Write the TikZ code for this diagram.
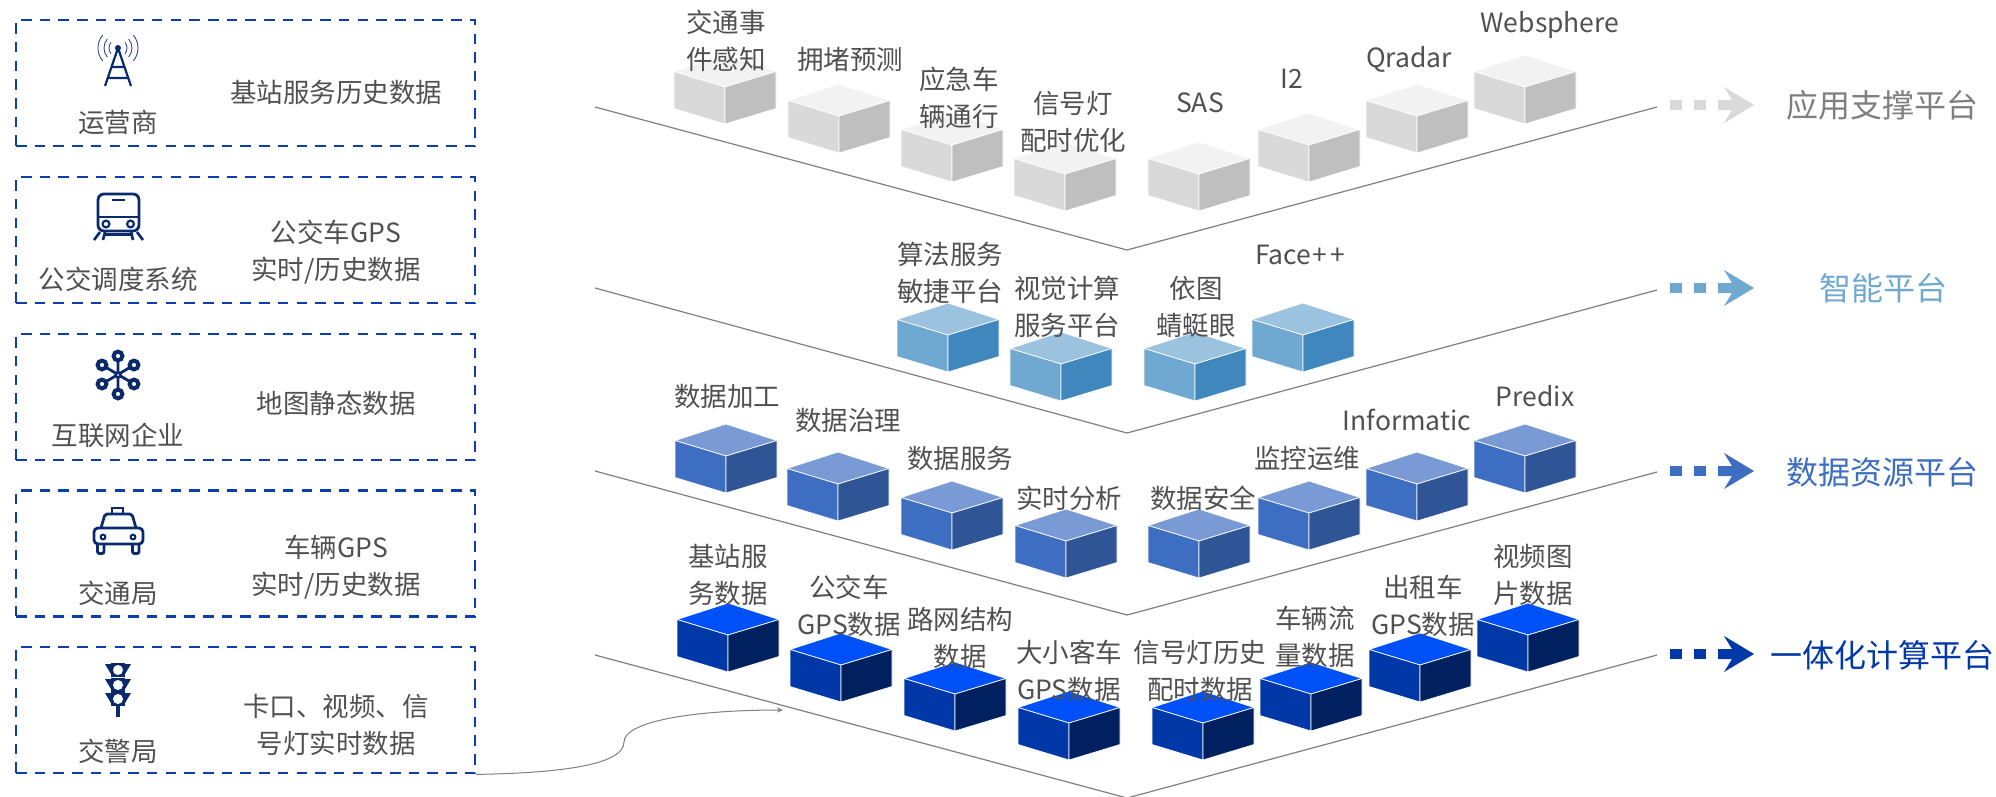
\documentclass[tikz,border=0pt]{standalone}
\usepackage{fontspec}
\setmainfont{Noto Sans CJK SC}
\usepackage{xcolor}
\usetikzlibrary{positioning}
\usetikzlibrary{shapes,arrows,calc,arrows.meta}
\definecolor{boxblue}{HTML}{0B3FAE}
\definecolor{iconnavy}{HTML}{0A2A6E}
\definecolor{textgray}{HTML}{505050}
\definecolor{linegray}{HTML}{7F7F7F}
\definecolor{appT}{HTML}{F2F2F2}
\definecolor{appL}{HTML}{D9D9D9}
\definecolor{appR}{HTML}{BFBFBF}
\definecolor{aiT}{HTML}{9BC2DE}
\definecolor{aiL}{HTML}{6FA8D0}
\definecolor{aiR}{HTML}{3F87BC}
\definecolor{dataT}{HTML}{7A9AD6}
\definecolor{dataL}{HTML}{3E6EC2}
\definecolor{dataR}{HTML}{2F5597}
\definecolor{baseT}{HTML}{0050F8}
\definecolor{baseL}{HTML}{0038A8}
\definecolor{baseR}{HTML}{002060}
\tikzset{
    srcbox/.style={draw=boxblue, line width=2.8pt, dash pattern=on 10.5pt off 8.2pt, minimum width=459pt, minimum height=126pt, inner sep=0pt},
    txt/.style={text=textgray, font=\fontsize{26.5}{37.5}\selectfont, align=center, inner sep=0pt},
    plat/.style={font=\fontsize{32}{38}\selectfont, inner sep=0pt},
    vline/.style={draw=linegray, line width=1.2pt},
    icon/.style={draw=iconnavy, line width=2.8pt},
    pics/cube/.style n args={3}{code={
        \fill [#1, draw=white, line width=0.7pt] (51,0) -- (102,16.5) -- (51,32) -- (0,16.5) -- cycle;
        \fill [#2, draw=white, line width=0.7pt] (0,16.5) -- (51,32) -- (51,69) -- (0,53.5) -- cycle;
        \fill [#3, draw=white, line width=0.7pt] (102,16.5) -- (51,32) -- (51,69) -- (102,53.5) -- cycle;
    }},
    pics/flow/.style={code={
        \fill [#1] (0,-5) rectangle (12,5);
        \fill [#1] (24,-5) rectangle (36,5);
        \fill [#1] (48,-5) -- (62,-5) -- (54,-18) -- (84,0) -- (54,18) -- (62,5) -- (48,5) -- cycle;
    }},
    pics/lamp/.style={code={
        \fill [iconnavy] (-7,0) rectangle (7,14);
        \fill [iconnavy] (-13,1) -- (-7,1) -- (-7,11) -- cycle;
        \fill [iconnavy] (13,1) -- (7,1) -- (7,11) -- cycle;
        \fill [white] (0,7) circle (5);
    }}
}

\begin{document}
\begin{tikzpicture}[x=1pt, y=-1pt]
    \useasboundingbox (0,0) rectangle (1996,796);
    % Source boxes
    \node [srcbox] (box1) at (245.5,83) {};
    \node [srcbox] (box2) at (245.5,240) {};
    \node [srcbox] (box3) at (245.5,397) {};
    \node [srcbox] (box4) at (245.5,553.5) {};
    \node [srcbox] (box5) at (245.5,710) {};

    \node [txt] (src1) at (118,122) {运营商};
    \node [txt] (src2) at (118,279) {公交调度系统};
    \node [txt] (src3) at (118,435) {互联网企业};
    \node [txt] (src4) at (118,593) {交通局};
    \node [txt] (src5) at (118,751) {交警局};
    \node [txt] (data1) at (336,92) {基站服务历史数据};
    \node [txt] (data2) at (336,252) {公交车GPS\\实时/历史数据};
    \node [txt] (data3) at (336,403) {地图静态数据};
    \node [txt] (data4) at (336,567) {车辆GPS\\实时/历史数据};
    \node [txt] (data5) at (336,725) {卡口、视频、信\\号灯实时数据};

    % Icons
    \draw [icon, line width=2.2pt, line join=round] (105,86) -- (118,48) -- (131,86) (112,67) -- (124,67) (108,78) -- (128,78);
    \fill [iconnavy] (118,48) circle (3);
    \draw [iconnavy!85, line width=0.9pt] (118,48) ++(140:9) arc (140:220:9) (118,48) ++(140:14) arc (140:220:14) (118,48) ++(140:20) arc (140:220:20);
    \draw [iconnavy!85, line width=0.9pt] (118,48) ++(-40:9) arc (-40:40:9) (118,48) ++(-40:14) arc (-40:40:14) (118,48) ++(-40:20) arc (-40:40:20);

    \draw [icon, rounded corners=6pt] (98,194) rectangle (139,231);
    \draw [icon] (98,217) -- (139,217) (112,200) -- (125,200);
    \draw [icon, line width=2.2pt] (106,224) circle (3.4) (130.5,224) circle (3.4);
    \draw [icon, line width=2.6pt] (100,232) -- (94,240) (137,232) -- (143,240) (105,232) -- (103,240) (131,232) -- (133,240) (104,234.5) -- (133,234.5);

    \draw [icon] (118,356) -- (118,394) (102,365) -- (134,384) (134,365) -- (102,384);
    \filldraw [icon, line width=2.6pt, fill=white] (118,375) circle (2.4);
    \filldraw [icon, line width=4pt, fill=white] (118,356) circle (4.4) (118,394) circle (4.4) (102,365) circle (4.4) (134,365) circle (4.4) (102,384) circle (4.4) (134,384) circle (4.4);

    \draw [icon, line join=round, rounded corners=2pt] (101,528) -- (105,514) -- (132,514) -- (136,528);
    \draw [icon, rounded corners=4pt] (94,528) rectangle (143,544);
    \draw [icon] (112,513) -- (112,508) -- (123,508) -- (123,513);
    \draw [icon, line width=2pt] (103,537) circle (2.4) (133,537) circle (2.4);
    \draw [icon, rounded corners=2pt] (97.5,544) -- (97.5,553.5) -- (104,553.5) -- (104,544) (132.5,544) -- (132.5,553.5) -- (139,553.5) -- (139,544);

    \pic at (118,663) {lamp};
    \pic at (118,678) {lamp};
    \pic at (118,692) {lamp};
    \draw [icon, line width=4pt] (118,705) -- (118,717);

    % Layers
    \coordinate (l1a) at (595,107);
    \coordinate (l1b) at (1127,250);
    \coordinate (l1c) at (1657,107);
    \coordinate (l2a) at (595,288);
    \coordinate (l2b) at (1127,433);
    \coordinate (l2c) at (1657,290);
    \coordinate (l3a) at (595,471);
    \coordinate (l3b) at (1127,615);
    \coordinate (l3c) at (1657,472);
    \coordinate (l4a) at (595,655);
    \coordinate (l4b) at (1127,798);
    \coordinate (l4c) at (1657,655);
    \draw [vline] (l1a) -- (l1b) -- (l1c);
    \draw [vline] (l2a) -- (l2b) -- (l2c);
    \draw [vline] (l3a) -- (l3b) -- (l3c);
    \draw [vline] (l4a) -- (l4b) -- (l4c);

    % Cubes
    \pic at (674,55) {cube={appT}{appL}{appR}};
    \pic at (788,84) {cube={appT}{appL}{appR}};
    \pic at (901,113) {cube={appT}{appL}{appR}};
    \pic at (1014,142) {cube={appT}{appL}{appR}};
    \pic at (1148,142) {cube={appT}{appL}{appR}};
    \pic at (1258,113) {cube={appT}{appL}{appR}};
    \pic at (1366,84) {cube={appT}{appL}{appR}};
    \pic at (1474,55) {cube={appT}{appL}{appR}};

    \pic at (897,303) {cube={aiT}{aiL}{aiR}};
    \pic at (1010,332) {cube={aiT}{aiL}{aiR}};
    \pic at (1144,332) {cube={aiT}{aiL}{aiR}};
    \pic at (1252,303) {cube={aiT}{aiL}{aiR}};

    \pic at (675,424) {cube={dataT}{dataL}{dataR}};
    \pic at (787,452) {cube={dataT}{dataL}{dataR}};
    \pic at (901,481) {cube={dataT}{dataL}{dataR}};
    \pic at (1015,509) {cube={dataT}{dataL}{dataR}};
    \pic at (1148,509) {cube={dataT}{dataL}{dataR}};
    \pic at (1258,481) {cube={dataT}{dataL}{dataR}};
    \pic at (1366,452) {cube={dataT}{dataL}{dataR}};
    \pic at (1474,424) {cube={dataT}{dataL}{dataR}};

    \pic at (677,603) {cube={baseT}{baseL}{baseR}};
    \pic at (790,633) {cube={baseT}{baseL}{baseR}};
    \pic at (904,662) {cube={baseT}{baseL}{baseR}};
    \pic at (1018,691) {cube={baseT}{baseL}{baseR}};
    \pic at (1152,691) {cube={baseT}{baseL}{baseR}};
    \pic at (1260,662) {cube={baseT}{baseL}{baseR}};
    \pic at (1369,633) {cube={baseT}{baseL}{baseR}};
    \pic at (1477,603) {cube={baseT}{baseL}{baseR}};

    % Cube labels
    \node [txt] (app1) at (726,41) {交通事\\件感知};
    \node [txt] (app2) at (850,59) {拥堵预测};
    \node [txt] (app3) at (959,98) {应急车\\辆通行};
    \node [txt] (app4) at (1073,122) {信号灯\\配时优化};
    \node [txt] (app5) at (1200,103) {SAS};
    \node [txt] (app6) at (1292,79) {I2};
    \node [txt] (app7) at (1409,59) {Qradar};
    \node [txt] (app8) at (1550,25) {Websphere};

    \node [txt] (ai1) at (950,273) {算法服务\\敏捷平台};
    \node [txt] (ai2) at (1067,307) {视觉计算\\服务平台};
    \node [txt] (ai3) at (1196,307) {依图\\蜻蜓眼};
    \node [txt] (ai4) at (1300,255) {Face\kern1pt+\kern3pt+};

    \node [txt] (res1) at (727,396) {数据加工};
    \node [txt] (res2) at (848,420) {数据治理};
    \node [txt] (res3) at (960,458) {数据服务};
    \node [txt] (res4) at (1069,498) {实时分析};
    \node [txt] (res5) at (1203,498) {数据安全};
    \node [txt] (res6) at (1307,458) {监控运维};
    \node [txt] (res7) at (1407,420) {Informatic};
    \node [txt] (res8) at (1535,396) {Predix};

    \node [txt] (bas1) at (728,575) {基站服\\务数据};
    \node [txt] (bas2) at (849,606) {公交车\\GPS数据};
    \node [txt] (bas3) at (960,638) {路网结构\\数据};
    \node [txt] (bas4) at (1069,671) {大小客车\\GPS数据};
    \node [txt] (bas5) at (1200,671) {信号灯历史\\配时数据};
    \node [txt] (bas6) at (1315,637) {车辆流\\量数据};
    \node [txt] (bas7) at (1423,606) {出租车\\GPS数据};
    \node [txt] (bas8) at (1533,575) {视频图\\片数据};

    % Platforms
    \pic at (1670,105) {flow=appL};
    \pic at (1670,288) {flow=aiL};
    \pic at (1670,471) {flow=dataL};
    \pic at (1670,654) {flow=baseL};
    \node [plat, text=linegray] (plat1) at (1882,105) {应用支撑平台};
    \node [plat, text=aiL] (plat2) at (1883,288) {智能平台};
    \node [plat, text=dataL] (plat3) at (1882,472) {数据资源平台};
    \node [plat, text=baseL] (plat4) at (1882,655) {一体化计算平台};

    % Arrows
    \coordinate (flowend) at (783,710);
    \draw [linegray, line width=1pt, -{Stealth[length=6pt, width=5pt]}] (box5.south east) .. controls (560,773) and (624,765) .. (624,742) .. controls (624,722) and (690,710) .. (flowend);
\end{tikzpicture}
\end{document}
